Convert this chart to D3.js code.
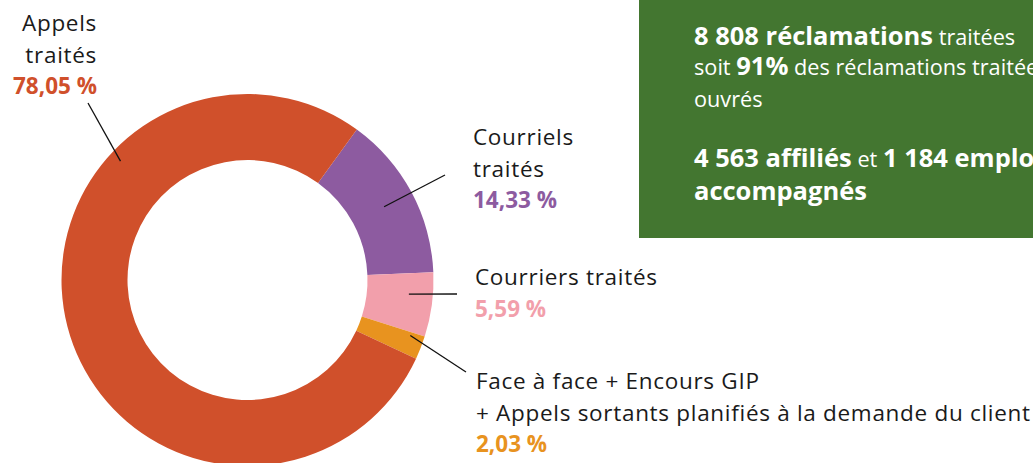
<!doctype html>
<html>
  <head>
    <meta charset="utf-8">
    <style>
      body {
        margin: 0;
        background: white;
        font-family: 'Open Sans', sans-serif;
      }
      .label { font-size: 22.5px; letter-spacing: 0.7px; fill: #1a1a1a; }
      .pct { font-size: 22.5px; font-weight: 700; }
      .box text { fill: white; font-size: 21.7px; }
      .box .b { font-weight: 700; font-size: 25.5px; }
    </style>
    <script src="https://d3js.org/d3.v7.min.js"></script>
  </head>
  <body>
    <svg width="1033" height="463"></svg>
    <script>
      // slices, clockwise from the purple one
      const categories = ["Courriels traités", "Courriers traités",
        "Face à face + Encours GIP + Appels sortants planifiés à la demande du client",
        "Appels traités"];
      const values = [14.33, 5.59, 2.03, 78.05];
      const colors = ["#8d5ba0", "#f29fab", "#e8931f", "#d0502b"];
      const labelLines = [
        ["Courriels", "traités"],
        ["Courriers traités"],
        ["Face à face + Encours GIP", "+ Appels sortants planifiés à la demande du client"],
        ["Appels", "traités"]
      ];

      const fr = d3.formatLocale({decimal: ",", thousands: " ", grouping: [3], currency: ["", " €"]});
      const fmt = v => fr.format(".2f")(v) + " %";

      const svg = d3.select("svg");
      const cx = 247.5, cy = 280, rOuter = 186, rInner = 120;

      const pie = d3.pie().sort(null).value(d => d)
        .startAngle(36 * Math.PI / 180)
        .endAngle(396 * Math.PI / 180);
      const arcs = pie(values);
      const arc = d3.arc().innerRadius(rInner).outerRadius(rOuter);

      const g = svg.append("g").attr("transform", "translate(" + cx + "," + cy + ")");
      g.selectAll("path")
        .data(arcs)
        .enter().append("path")
        .attr("d", arc)
        .attr("fill", (d, i) => colors[i]);

      // label layout: text anchor, alignment, leader end, where in the slice the leader starts
      const layout = [
        {x: 473, y: 145, anchor: "start", end: [445, 175], t: 0.5, r: 155},
        {x: 475, y: 285, anchor: "start", end: [457, 294], t: 0.37, r: 162},
        {x: 476, y: 389, anchor: "start", end: [466, 372], t: 0.15, r: 172},
        {x: 97, y: 31, anchor: "end", end: [88, 103], t: 0.705, r: 174}
      ];

      arcs.forEach(function(d, i) {
        var L = layout[i];
        var a = d.startAngle + (d.endAngle - d.startAngle) * L.t;
        var px = cx + L.r * Math.sin(a), py = cy - L.r * Math.cos(a);
        svg.append("line")
          .attr("x1", px).attr("y1", py)
          .attr("x2", L.end[0]).attr("y2", L.end[1])
          .attr("stroke", "#111").attr("stroke-width", 1.3);

        var lines = labelLines[i];
        var t = svg.append("text").attr("class", "label")
          .attr("text-anchor", L.anchor);
        lines.forEach(function(s, k) {
          t.append("tspan").attr("x", L.x).attr("y", L.y + k * 31.5).text(s);
        });
        svg.append("text").attr("class", "pct")
          .attr("text-anchor", L.anchor)
          .attr("x", L.x).attr("y", L.y + lines.length * 31.5)
          .attr("fill", colors[i])
          .text(fmt(values[i]));
      });

      // green key figures box
      const box = svg.append("g").attr("class", "box");
      box.append("rect").attr("x", 639).attr("y", -2).attr("width", 400).attr("height", 240)
        .attr("fill", "#437630");
      const boxLines = [
        [{b: "8 808 réclamations"}, {r: " traitées"}],
        [{r: "soit "}, {b: "91%"}, {r: " des réclamations traitées"}],
        [{r: "ouvrés"}],
        [{b: "4 563 affiliés"}, {r: " et "}, {b: "1 184 employeurs"}],
        [{b: "accompagnés"}]
      ];
      const boxY = [45, 75, 106.5, 166.5, 200];
      boxLines.forEach(function(parts, k) {
        var t = box.append("text").attr("x", 694).attr("y", boxY[k]);
        parts.forEach(function(p) {
          t.append("tspan").attr("class", p.b ? "b" : null).text(p.b || p.r);
        });
      });
    </script>
  </body>
</html>
